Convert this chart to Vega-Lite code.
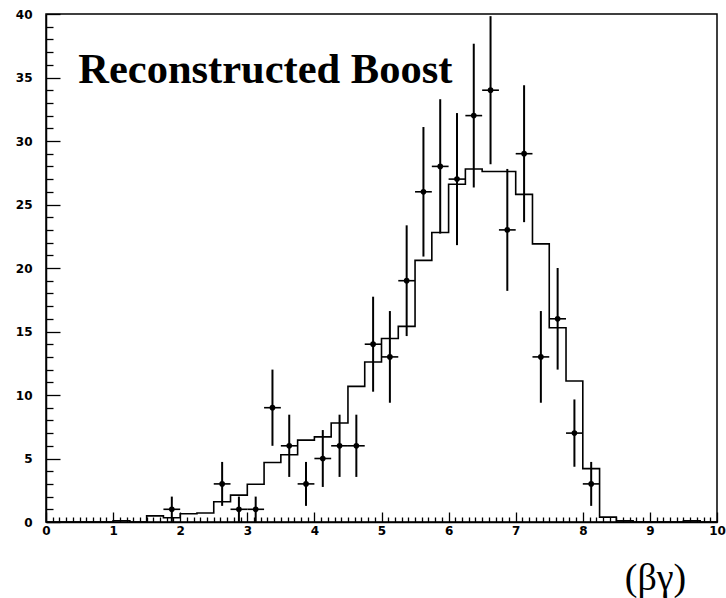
{
  "$schema": "https://vega.github.io/schema/vega-lite/v6.json",
  "width": 671,
  "height": 508,
  "autosize": {"type": "none"},
  "padding": {"left": 46, "top": 14, "right": 9, "bottom": 76},
  "background": "white",
  "config": {
    "view": {"stroke": "#000", "strokeWidth": 1.5},
    "axis": {"grid": false, "domainColor": "#000", "tickColor": "#000", "tickWidth": 1.3, "domainWidth": 1.5, "labelFont": "DejaVu Sans", "labelFontWeight": "bold", "labelFontSize": 12, "labelColor": "#000", "labelOverlap": false, "labelBound": false, "labelFlush": false}
  },
  "resolve": {"axis": {"x": "independent", "y": "independent"}},
  "datasets": {
    "hist": [
      {"lo": 0, "h": 0}, {"lo": 0.25, "h": 0}, {"lo": 0.5, "h": 0}, {"lo": 0.75, "h": 0},
      {"lo": 1.0, "h": 0.1}, {"lo": 1.25, "h": 0}, {"lo": 1.5, "h": 0.48}, {"lo": 1.75, "h": 0.33},
      {"lo": 2.0, "h": 0.65}, {"lo": 2.25, "h": 0.71}, {"lo": 2.5, "h": 1.6}, {"lo": 2.75, "h": 2.12},
      {"lo": 3.0, "h": 2.97}, {"lo": 3.25, "h": 4.68}, {"lo": 3.5, "h": 5.3}, {"lo": 3.75, "h": 6.45},
      {"lo": 4.0, "h": 6.7}, {"lo": 4.25, "h": 7.8}, {"lo": 4.5, "h": 10.68}, {"lo": 4.75, "h": 12.6},
      {"lo": 5.0, "h": 14.45}, {"lo": 5.25, "h": 15.4}, {"lo": 5.5, "h": 20.6}, {"lo": 5.75, "h": 22.8},
      {"lo": 6.0, "h": 26.6}, {"lo": 6.25, "h": 27.8}, {"lo": 6.5, "h": 27.6}, {"lo": 6.75, "h": 27.6},
      {"lo": 7.0, "h": 25.8}, {"lo": 7.25, "h": 21.9}, {"lo": 7.5, "h": 15.3}, {"lo": 7.75, "h": 11.1},
      {"lo": 8.0, "h": 4.2}, {"lo": 8.25, "h": 0.38}, {"lo": 8.5, "h": 0.09}, {"lo": 8.75, "h": 0},
      {"lo": 9.0, "h": 0}, {"lo": 9.25, "h": 0}, {"lo": 9.5, "h": 0.09}, {"lo": 9.75, "h": 0},
      {"lo": 10.0, "h": 0}
    ],
    "pts": [
      {"x": 1.875, "xlo": 1.75, "xhi": 2.0, "n": 1, "elo": 0, "ehi": 2},
      {"x": 2.625, "xlo": 2.5, "xhi": 2.75, "n": 3, "elo": 1.27, "ehi": 4.73},
      {"x": 2.875, "xlo": 2.75, "xhi": 3.0, "n": 1, "elo": 0, "ehi": 2},
      {"x": 3.125, "xlo": 3.0, "xhi": 3.25, "n": 1, "elo": 0, "ehi": 2},
      {"x": 3.375, "xlo": 3.25, "xhi": 3.5, "n": 9, "elo": 6, "ehi": 12},
      {"x": 3.625, "xlo": 3.5, "xhi": 3.75, "n": 6, "elo": 3.55, "ehi": 8.45},
      {"x": 3.875, "xlo": 3.75, "xhi": 4.0, "n": 3, "elo": 1.27, "ehi": 4.73},
      {"x": 4.125, "xlo": 4.0, "xhi": 4.25, "n": 5, "elo": 2.76, "ehi": 7.24},
      {"x": 4.375, "xlo": 4.25, "xhi": 4.5, "n": 6, "elo": 3.55, "ehi": 8.45},
      {"x": 4.625, "xlo": 4.5, "xhi": 4.75, "n": 6, "elo": 3.55, "ehi": 8.45},
      {"x": 4.875, "xlo": 4.75, "xhi": 5.0, "n": 14, "elo": 10.26, "ehi": 17.74},
      {"x": 5.125, "xlo": 5.0, "xhi": 5.25, "n": 13, "elo": 9.39, "ehi": 16.61},
      {"x": 5.375, "xlo": 5.25, "xhi": 5.5, "n": 19, "elo": 14.64, "ehi": 23.36},
      {"x": 5.625, "xlo": 5.5, "xhi": 5.75, "n": 26, "elo": 20.9, "ehi": 31.1},
      {"x": 5.875, "xlo": 5.75, "xhi": 6.0, "n": 28, "elo": 22.71, "ehi": 33.29},
      {"x": 6.125, "xlo": 6.0, "xhi": 6.25, "n": 27, "elo": 21.8, "ehi": 32.2},
      {"x": 6.375, "xlo": 6.25, "xhi": 6.5, "n": 32, "elo": 26.34, "ehi": 37.66},
      {"x": 6.625, "xlo": 6.5, "xhi": 6.75, "n": 34, "elo": 28.17, "ehi": 39.83},
      {"x": 6.875, "xlo": 6.75, "xhi": 7.0, "n": 23, "elo": 18.2, "ehi": 27.8},
      {"x": 7.125, "xlo": 7.0, "xhi": 7.25, "n": 29, "elo": 23.61, "ehi": 34.39},
      {"x": 7.375, "xlo": 7.25, "xhi": 7.5, "n": 13, "elo": 9.39, "ehi": 16.61},
      {"x": 7.625, "xlo": 7.5, "xhi": 7.75, "n": 16, "elo": 12, "ehi": 20},
      {"x": 7.875, "xlo": 7.75, "xhi": 8.0, "n": 7, "elo": 4.35, "ehi": 9.65},
      {"x": 8.125, "xlo": 8.0, "xhi": 8.25, "n": 3, "elo": 1.27, "ehi": 4.73}
    ]
  },
  "layer": [
    {
      "data": {"name": "hist"},
      "mark": {"type": "line", "interpolate": "step-after", "color": "#000", "strokeWidth": 1.6, "clip": true},
      "encoding": {
        "x": {"field": "lo", "type": "quantitative", "scale": {"domain": [0, 10], "nice": false, "zero": false},
          "axis": {
            "orient": "bottom",
            "values": [0,1,2,3,4,5,6,7,8,9,10],
            "format": "d",
            "tickSize": -10,
            "labelPadding": 13,
            "labelOverlap": false,
            "title": "(βγ)",
            "titleFont": "Liberation Serif",
            "titleFontWeight": "normal",
            "titleFontSize": 38,
            "titleColor": "#000",
            "titleX": 609,
            "titleY": 67,
            "titleAlign": "center",
            "titleBaseline": "alphabetic"
          }
        },
        "y": {"field": "h", "type": "quantitative", "scale": {"domain": [0, 40], "nice": false},
          "axis": {
            "orient": "left",
            "values": [0,5,10,15,20,25,30,35,40],
            "tickSize": -14,
            "labelPadding": 28,
            "labelOverlap": false,
            "title": null
          }
        }
      }
    },
    {
      "data": {"name": "pts"},
      "mark": {"type": "rule", "color": "#000", "strokeWidth": 2},
      "encoding": {
        "x": {"field": "x", "type": "quantitative",
          "axis": {
            "orient": "bottom",
            "values": [0.1,0.2,0.3,0.4,0.5,0.6,0.7,0.8,0.9,1.1,1.2,1.3,1.4,1.5,1.6,1.7,1.8,1.9,2.1,2.2,2.3,2.4,2.5,2.6,2.7,2.8,2.9,3.1,3.2,3.3,3.4,3.5,3.6,3.7,3.8,3.9,4.1,4.2,4.3,4.4,4.5,4.6,4.7,4.8,4.9,5.1,5.2,5.3,5.4,5.5,5.6,5.7,5.8,5.9,6.1,6.2,6.3,6.4,6.5,6.6,6.7,6.8,6.9,7.1,7.2,7.3,7.4,7.5,7.6,7.7,7.8,7.9,8.1,8.2,8.3,8.4,8.5,8.6,8.7,8.8,8.9,9.1,9.2,9.3,9.4,9.5,9.6,9.7,9.8,9.9],
            "tickSize": -5,
            "labels": false,
            "domain": false,
            "title": null
          }
        },
        "y": {"field": "elo", "type": "quantitative",
          "axis": {
            "orient": "left",
            "values": [1,2,3,4,6,7,8,9,11,12,13,14,16,17,18,19,21,22,23,24,26,27,28,29,31,32,33,34,36,37,38,39],
            "tickSize": -7,
            "labels": false,
            "domain": false,
            "title": null
          }
        },
        "y2": {"field": "ehi"}
      }
    },
    {
      "data": {"name": "pts"},
      "mark": {"type": "rule", "color": "#000", "strokeWidth": 1.6},
      "encoding": {
        "x": {"field": "xlo", "type": "quantitative", "axis": null},
        "x2": {"field": "xhi"},
        "y": {"field": "n", "type": "quantitative", "axis": null}
      }
    },
    {
      "data": {"name": "pts"},
      "mark": {"type": "point", "filled": true, "color": "#000", "opacity": 1, "size": 32},
      "encoding": {
        "x": {"field": "x", "type": "quantitative", "axis": null},
        "y": {"field": "n", "type": "quantitative", "axis": null}
      }
    },
    {
      "data": {"values": [{"label": "Reconstructed Boost"}]},
      "mark": {"type": "text", "font": "Liberation Serif", "fontWeight": "bold", "fontSize": 42.5, "align": "left", "baseline": "alphabetic", "color": "#000"},
      "encoding": {
        "x": {"datum": 0.48, "type": "quantitative", "axis": null},
        "y": {"datum": 34.6, "type": "quantitative", "axis": null},
        "text": {"field": "label"}
      }
    }
  ]
}
